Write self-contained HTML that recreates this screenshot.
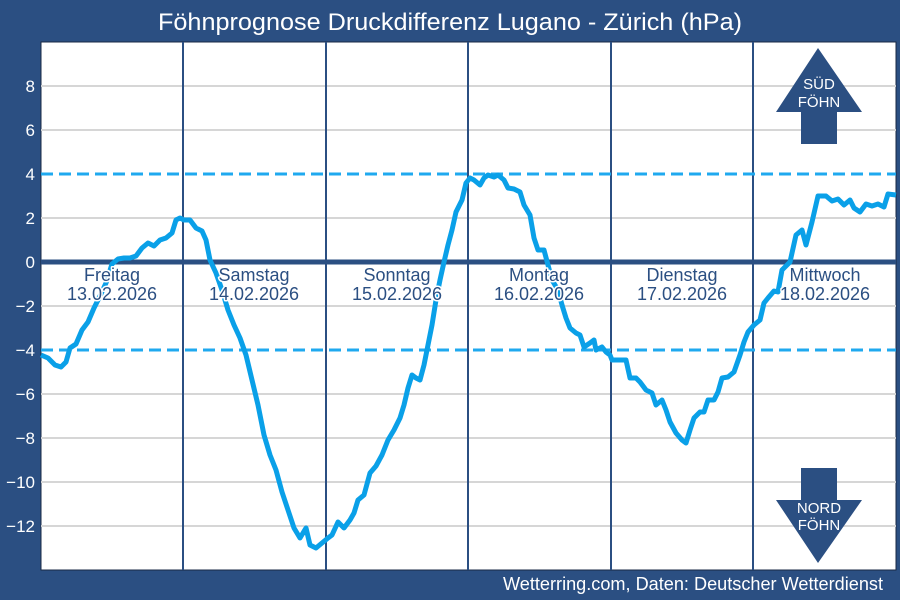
<!DOCTYPE html>
<html><head><meta charset="utf-8"><style>
html,body{margin:0;padding:0;background:#2b4f82;}
svg{display:block;font-family:"Liberation Sans",sans-serif;}
</style></head><body>
<svg width="900" height="600" viewBox="0 0 900 600">
<rect width="900" height="600" fill="#2b4f82"/>
<rect x="41" y="42" width="855" height="528" fill="#fff" stroke="#1a2a44" stroke-width="1"/>
<g stroke="#d6d6d6" stroke-width="2">
<line x1="41" x2="896" y1="86" y2="86"/><line x1="41" x2="896" y1="130" y2="130"/>
<line x1="41" x2="896" y1="218" y2="218"/><line x1="41" x2="896" y1="306" y2="306"/>
<line x1="41" x2="896" y1="394" y2="394"/><line x1="41" x2="896" y1="438" y2="438"/>
<line x1="41" x2="896" y1="482" y2="482"/><line x1="41" x2="896" y1="526" y2="526"/>
</g>
<g stroke="#2b4f82" stroke-width="2">
<line x1="183" x2="183" y1="42" y2="570"/><line x1="326" x2="326" y1="42" y2="570"/>
<line x1="468" x2="468" y1="42" y2="570"/><line x1="611" x2="611" y1="42" y2="570"/>
<line x1="753" x2="753" y1="42" y2="570"/>
</g>
<g stroke="#1fa9ef" stroke-width="3" stroke-dasharray="12,6">
<line x1="41" x2="896" y1="174" y2="174"/><line x1="41" x2="896" y1="350" y2="350"/>
</g>
<line x1="41" x2="896" y1="262" y2="262" stroke="#2b4f82" stroke-width="5"/>
<g fill="#fff" font-size="17" text-anchor="end">
<text x="35" y="92">8</text><text x="35" y="136">6</text><text x="35" y="180">4</text>
<text x="35" y="224">2</text><text x="35" y="268">0</text><text x="35" y="312">−2</text>
<text x="35" y="356">−4</text><text x="35" y="400">−6</text><text x="35" y="444">−8</text>
<text x="35" y="488">−10</text><text x="35" y="532">−12</text>
</g>
<polyline fill="none" stroke="#0aa0e8" stroke-width="5" stroke-linejoin="round" points="41,355 48,358 55,365 61,367 66,362 70,348 76,344 82,330 88,322 94,308 100,296 106,283 112,264 118,259 124,258 130,258 136,256 142,248 148,243 154,246 160,240 166,238 172,233 176,220 180,218 184,220 190,220 196,228 202,231 206,240 210,260 216,273 222,290 228,310 234,325 240,338 246,355 252,380 258,405 264,435 270,455 276,470 282,492 288,510 294,528 300,538 306,528 310,545 316,548 322,543 328,538 332,535 338,522 344,528 350,520 354,513 358,500 364,495 370,473 376,466 382,455 388,440 394,430 400,418 404,405 408,388 412,375 416,378 420,380 424,365 428,345 432,325 436,300 440,280 444,262 448,245 452,230 456,212 462,200 466,183 470,178 474,180 480,185 484,178 488,175 494,177 498,175 504,180 508,188 514,189 520,192 524,205 530,215 534,238 538,250 544,250 548,265 552,280 558,290 562,305 566,318 570,328 576,333 580,335 584,347 590,343 594,340 596,350 602,347 606,352 610,355 612,360 620,360 626,360 630,378 636,378 640,382 646,390 652,393 656,405 662,400 666,410 670,422 676,433 682,440 686,443 690,430 694,418 700,412 704,412 708,400 714,400 718,392 722,378 728,377 734,372 740,355 744,342 748,332 754,325 760,320 764,303 768,298 774,291 778,292 782,270 790,262 796,235 802,230 806,245 812,222 818,196 826,196 832,201 838,199 844,205 850,200 854,208 860,212 866,204 872,206 878,204 884,207 888,194 896,195"/>
<g fill="#2b4f82" font-size="18" text-anchor="middle" stroke="#fff" stroke-width="3" paint-order="stroke" stroke-linejoin="round">
<text x="112" y="281">Freitag</text><text x="112" y="300">13.02.2026</text>
<text x="254" y="281">Samstag</text><text x="254" y="300">14.02.2026</text>
<text x="397" y="281">Sonntag</text><text x="397" y="300">15.02.2026</text>
<text x="539" y="281">Montag</text><text x="539" y="300">16.02.2026</text>
<text x="682" y="281">Dienstag</text><text x="682" y="300">17.02.2026</text>
<text x="825" y="281">Mittwoch</text><text x="825" y="300">18.02.2026</text>
</g>
<polygon points="818,48 862,112 837,112 837,144 801,144 801,112 776,112" fill="#2b4f82"/>
<polygon points="801,468 837,468 837,500 862,500 818,563 776,500 801,500" fill="#2b4f82"/>
<g fill="#fff" font-size="15" text-anchor="middle">
<text x="819" y="89">SÜD</text><text x="819" y="107">FÖHN</text>
<text x="819" y="513">NORD</text><text x="819" y="530">FÖHN</text>
</g>
<text x="450" y="30" fill="#fff" font-size="24" text-anchor="middle" textLength="584" lengthAdjust="spacingAndGlyphs">Föhnprognose Druckdifferenz Lugano - Zürich (hPa)</text>
<text x="883" y="590" fill="#fff" font-size="18" text-anchor="end" textLength="380" lengthAdjust="spacingAndGlyphs">Wetterring.com, Daten: Deutscher Wetterdienst</text>
</svg>
</body></html>
